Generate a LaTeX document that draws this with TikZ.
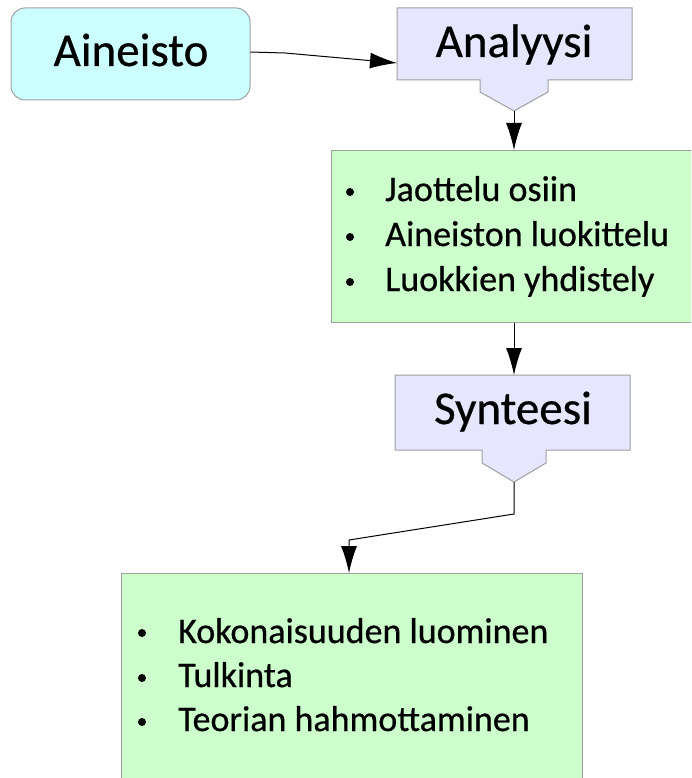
\documentclass[tikz,border=0pt]{standalone}
\usepackage{fontspec}
\setmainfont[FakeBold=0.6]{Carlito}
\usetikzlibrary{arrows.meta}
\definecolor{cyanfill}{HTML}{CCFFFF}
\definecolor{lavfill}{HTML}{E6E6FF}
\definecolor{greenfill}{HTML}{CCFFCC}
\definecolor{boxline}{HTML}{A0A0A0}
\begin{document}
\begin{tikzpicture}[x=1pt,y=-1pt,
  box/.style={draw=boxline, line width=1pt},
  conn/.style={-{Latex[length=27pt,width=16pt]}, line width=1pt},
  title/.style={font=\fontsize{47}{50}\selectfont, inner sep=0, anchor=base},
  item/.style={font=\fontsize{36}{40}\selectfont, anchor=base west, inner sep=0},
  bullet/.style={fill=black, circle, inner sep=0, minimum size=8pt}
]
\useasboundingbox (0,0) rectangle (691,778);
\clip (0,0) rectangle (691,778);
\fill[white] (0,0) rectangle (691,778);

% Aineisto
\node[box, fill=cyanfill, rounded corners=14pt, minimum width=239pt, minimum height=92pt, inner sep=0] (ain) at (130.5,54) {};
\node[title] (aintext) at (131,66) {Aineisto};

% Analyysi
\filldraw[box, fill=lavfill] (397,8) -- (632,8) -- (632,80) -- (548,80) -- (548,92) -- (514,111) -- (480,92) -- (480,80) -- (397,80) -- cycle;
\node[title] (ana) at (514,57) {Analyysi};
\coordinate (anatip) at (514,111);
\coordinate (analeft) at (397,63);

% Green box 1
\node[box, fill=greenfill, minimum width=366pt, minimum height=172pt, anchor=north west, inner sep=0] (g1) at (331,150) {};
\node[bullet] (b11) at (350,192) {};
\node[bullet] (b12) at (350,237) {};
\node[bullet] (b13) at (350,282) {};
\node[item] (t11) at (385,201) {Jaottelu osiin};
\node[item] (t12) at (385,246) {Aineiston luokittelu};
\node[item] (t13) at (385,291) {Luokkien yhdistely};

% Synteesi
\filldraw[box, fill=lavfill] (395,375) -- (630,375) -- (630,450) -- (546,450) -- (546,463) -- (514,482) -- (482,463) -- (482,450) -- (395,450) -- cycle;
\node[title] (syn) at (513,424) {Synteesi};
\coordinate (syntop) at (514,375);
\coordinate (syntip) at (514,482);
\coordinate (bend) at (514,514);
\coordinate (bend2) at (349,540);

% Green box 2
\node[box, fill=greenfill, minimum width=461pt, minimum height=230pt, anchor=north west, inner sep=0] (g2) at (121,573) {};
\node[bullet] (b21) at (142,633) {};
\node[bullet] (b22) at (142,678) {};
\node[bullet] (b23) at (142,722) {};
\node[item] (t21) at (178,643) {Kokonaisuuden luominen};
\node[item] (t22) at (178,687) {Tulkinta};
\node[item] (t23) at (178,731) {Teorian hahmottaminen};

% connectors
\draw[conn] (ain.east |- 0,52) -- (285,53) -- (analeft);
\draw[conn] (anatip) -- (anatip |- g1.north);
\draw[conn] (g1.south -| anatip) -- (syntop);
\draw[conn] (syntip) -- (bend) -- (bend2) -- (bend2 |- g2.north);
\end{tikzpicture}
\end{document}
